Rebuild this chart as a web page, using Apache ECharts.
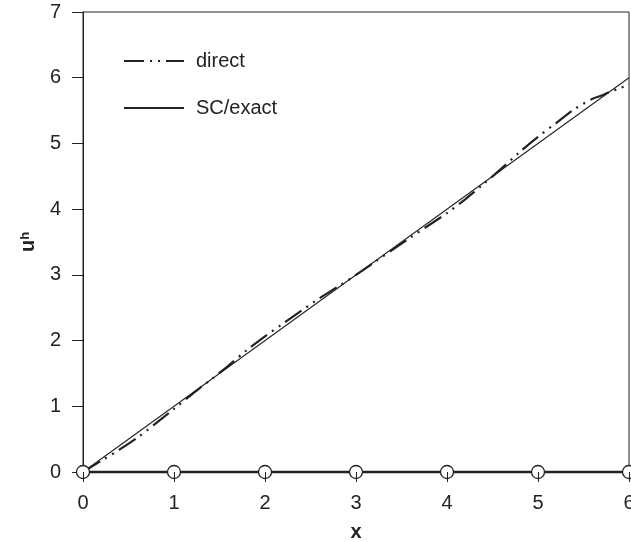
<!DOCTYPE html>
<html>
<head>
  <meta charset="utf-8">
  <title>direct vs SC/exact</title>
  <script src="https://cdn.jsdelivr.net/npm/echarts@6/dist/echarts.min.js"></script>
  <style>
    html, body { margin: 0; padding: 0; background: #fff; }
    #main { width: 631px; height: 542px; }
  </style>
</head>
<body>
<div id="main"></div>
<script>
  // mesh nodes (circles on the x axis)
  var nodeX = [0, 1, 2, 3, 4, 5, 6];
  var nodeY = [0, 0, 0, 0, 0, 0, 0];

  // SC / exact solution
  var exactX = [0, 6];
  var exactY = [0, 6];

  // direct solution
  var directX = [0, 0.2, 0.4, 0.6, 0.8, 1.0, 1.2, 1.4, 1.6, 1.8, 2.0, 2.2, 2.4, 2.6, 2.8, 3.0,
                 3.2, 3.4, 3.6, 3.8, 4.0, 4.2, 4.4, 4.6, 4.8, 5.0, 5.2, 5.4, 5.6, 5.7, 5.8, 5.9, 6.0];
  var directY = [0, 0.17, 0.34, 0.525, 0.74, 0.96, 1.185, 1.40, 1.62, 1.855, 2.065, 2.26, 2.455, 2.645, 2.82, 3.0,
                 3.19, 3.38, 3.57, 3.755, 3.94, 4.15, 4.38, 4.62, 4.87, 5.10, 5.31, 5.52, 5.68, 5.73, 5.79, 5.84, 5.90];

  var xTicks = [0, 1, 2, 3, 4, 5, 6];
  var yTicks = [0, 1, 2, 3, 4, 5, 6, 7];

  function pairs(xs, ys) {
    var out = [];
    for (var i = 0; i < xs.length; i++) out.push([xs[i], ys[i]]);
    return out;
  }

  var ink = '#222';
  var font = 'Liberation Sans, Arial, sans-serif';

  var chart = echarts.init(document.getElementById('main'));
  chart.setOption({
    animation: false,
    grid: {
      left: 83, right: 2, top: 12, bottom: 70,
      outerBoundsMode: 'none', containLabel: false,
      show: true, borderColor: ink, borderWidth: 1
    },
    legend: {
      data: ['direct', 'SC/exact'],
      orient: 'vertical',
      left: 123, top: 50, padding: 0,
      itemWidth: 60, itemHeight: 10, itemGap: 25,
      itemStyle: { color: 'transparent', borderWidth: 0, opacity: 0 },
      textStyle: { fontFamily: font, fontSize: 20, color: ink, lineHeight: 22, padding: [0, 0, 0, 7] }
    },
    xAxis: {
      type: 'value', min: xTicks[0], max: xTicks[xTicks.length - 1], interval: 1,
      z: 5,
      name: 'x', nameLocation: 'middle', nameGap: 50,
      nameTextStyle: { fontFamily: font, fontSize: 20, fontWeight: 'bold', color: ink },
      axisLine: { show: false },
      axisTick: { show: true, length: 10, lineStyle: { color: ink, width: 1 } },
      axisLabel: { margin: 21, fontFamily: font, fontSize: 20, color: ink },
      splitLine: { show: false }
    },
    yAxis: {
      type: 'value', min: yTicks[0], max: yTicks[yTicks.length - 1], interval: 1,
      name: '{u|u}{h|h}', nameLocation: 'middle', nameRotate: 90, nameGap: 43,
      nameTextStyle: {
        rich: {
          u: { fontFamily: font, fontSize: 20, fontWeight: 'bold', color: ink },
          h: { fontFamily: font, fontSize: 13, fontWeight: 'bold', color: ink, verticalAlign: 'top', padding: [0, 0, 8, 0] }
        }
      },
      axisLine: { show: true, lineStyle: { color: ink, width: 1 } },
      axisTick: { show: true, length: 11, lineStyle: { color: ink, width: 1 } },
      axisLabel: { margin: 22, fontFamily: font, fontSize: 20, color: ink },
      splitLine: { show: false }
    },
    series: [
      {
        name: 'direct', type: 'line', data: pairs(directX, directY),
        symbol: 'none', smooth: 0.3, z: 3,
        lineStyle: { color: ink, width: 2.2, type: [20, 6, 2, 6, 2, 6] }
      },
      {
        name: 'SC/exact', type: 'line', data: pairs(exactX, exactY),
        symbol: 'none', z: 3,
        lineStyle: { color: ink, width: 1.1, type: 'solid' }
      },
      {
        name: 'nodes', type: 'line', data: pairs(nodeX, nodeY),
        symbol: 'circle', symbolSize: 13, z: 4, clip: false,
        lineStyle: { color: ink, width: 2.5 },
        itemStyle: { color: '#fff', borderColor: ink, borderWidth: 1.3 }
      }
    ]
  });
</script>
</body>
</html>
